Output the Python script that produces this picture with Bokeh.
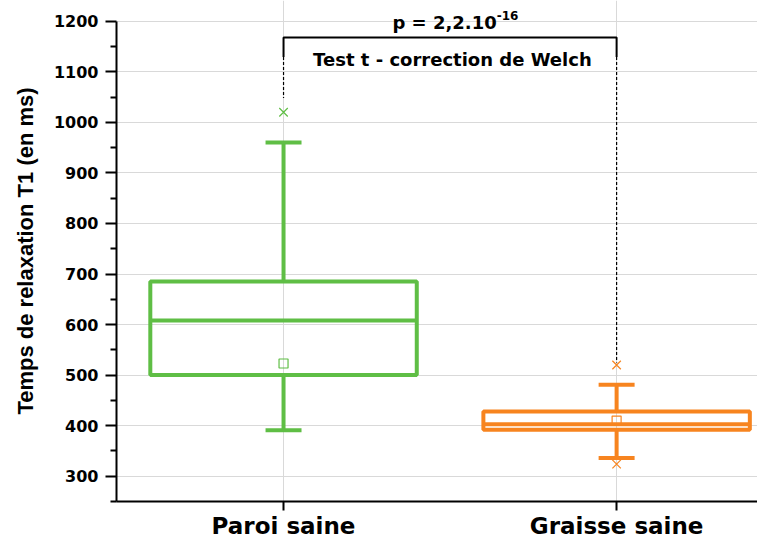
from bokeh.plotting import figure
from bokeh.models import Range1d, FixedTicker, Label
from bokeh.embed import file_html
from bokeh.resources import INLINE

categories = ["Paroi saine", "Graisse saine"]
positions = [1, 2]
colors = ["#5fbe45", "#f7841f"]
q1 = [500, 392]
median = [608, 403]
q3 = [685, 428]
mean = [523, 410]
whisker_low = [391, 336]
whisker_high = [960, 481]
data_max = [1020, 520]
data_min = [None, 324]
y_ticks = [300, 400, 500, 600, 700, 800, 900, 1000, 1100, 1200]
y_minor_ticks = [250, 350, 450, 550, 650, 750, 850, 950, 1050, 1150]
p_text = "p = 2,2.10"
p_exp = "-16"
test_text = "Test t - correction de Welch"

p = figure(width=757, height=541, output_backend="svg", toolbar_location=None,
           x_range=Range1d(0.4985, 2.423), y_range=Range1d(250, 1241),
           min_border_left=116, min_border_right=0, min_border_top=0, min_border_bottom=34)
p.outline_line_color = None
p.background_fill_color = "white"

box_w = 0.8
cap_w = 0.108
for i in range(2):
    x = positions[i]
    c = colors[i]
    p.segment(x0=[x, x], y0=[q3[i], q1[i]], x1=[x, x], y1=[whisker_high[i], whisker_low[i]],
              line_color=c, line_width=4)
    p.segment(x0=[x - cap_w / 2] * 2, y0=[whisker_high[i], whisker_low[i]],
              x1=[x + cap_w / 2] * 2, y1=[whisker_high[i], whisker_low[i]],
              line_color=c, line_width=4)
    p.quad(left=[x - box_w / 2], right=[x + box_w / 2], bottom=[q1[i]], top=[q3[i]],
           fill_color=None, line_color=c, line_width=4)
    p.segment(x0=[x - box_w / 2], y0=[median[i]], x1=[x + box_w / 2], y1=[median[i]],
              line_color=c, line_width=4)
    p.scatter(x=[x], y=[mean[i]], marker="square", size=9, fill_color=None,
              line_color=c, line_width=1.2)
    ext = [v for v in (data_max[i], data_min[i]) if v is not None]
    p.scatter(x=[x] * len(ext), y=ext, marker="x", size=12, line_color=c, line_width=1.2)

# significance bracket
bracket_y = 1168
solid_end = 1129
p.line(x=[positions[0], positions[0], positions[1], positions[1]],
       y=[solid_end, bracket_y, bracket_y, solid_end], line_color="black", line_width=2)
p.segment(x0=positions, y0=[solid_end, solid_end], x1=positions, y1=[1048, 525],
          line_color="black", line_width=1.2, line_dash="3 2")

p.add_layout(Label(x=1.507, y=1125, text=test_text, text_align="center",
                   text_baseline="middle", text_font="DejaVu Sans",
                   text_font_style="bold", text_font_size="18px", text_color="black"))
p.add_layout(Label(x=1.64, y=1198, text=p_text, text_align="right",
                   text_baseline="middle", text_font="DejaVu Sans",
                   text_font_style="bold", text_font_size="18px", text_color="black"))
p.add_layout(Label(x=1.64, y=1211, text=p_exp, text_align="left",
                   text_baseline="middle", text_font="DejaVu Sans",
                   text_font_style="bold", text_font_size="12px", text_color="black"))

# axes
p.yaxis.bounds = (250, 1200)
p.yaxis.ticker = FixedTicker(ticks=y_ticks, minor_ticks=y_minor_ticks)
p.yaxis.axis_label = "Temps de relaxation T1 (en ms)"
p.yaxis.axis_label_text_font = "Liberation Sans"
p.yaxis.axis_label_text_font_style = "bold"
p.yaxis.axis_label_text_font_size = "22px"
p.yaxis.axis_label_text_color = "black"
p.yaxis.axis_label_standoff = 13
p.yaxis.major_label_text_font = "DejaVu Sans"
p.yaxis.major_label_text_font_style = "bold"
p.yaxis.major_label_text_font_size = "16px"
p.yaxis.major_label_text_color = "black"
p.yaxis.major_label_standoff = 7
p.yaxis.major_tick_out = 11
p.yaxis.major_tick_in = 0
p.yaxis.minor_tick_out = 6
p.yaxis.minor_tick_in = 0
p.yaxis.axis_line_width = 2
p.yaxis.major_tick_line_width = 2
p.yaxis.minor_tick_line_width = 2
p.yaxis.axis_line_color = "black"

p.xaxis.ticker = FixedTicker(ticks=positions)
p.xaxis.major_label_overrides = {positions[i]: categories[i] for i in range(2)}
p.xaxis.major_label_text_font = "DejaVu Sans"
p.xaxis.major_label_text_font_style = "bold"
p.xaxis.major_label_text_font_size = "23px"
p.xaxis.major_label_text_color = "black"
p.xaxis.major_label_standoff = 2
p.xaxis.major_tick_out = 9
p.xaxis.major_tick_in = 0
p.xaxis.minor_tick_line_color = None
p.xaxis.axis_line_width = 2
p.xaxis.major_tick_line_width = 2
p.xaxis.axis_line_color = "black"

p.ygrid.bounds = (250, 1150)
p.ygrid.grid_line_color = "#d9d9d9"
p.ygrid.grid_line_width = 1
p.xgrid.grid_line_color = "#d9d9d9"
p.xgrid.grid_line_width = 1

open("out.html", "w").write(file_html(p, INLINE))
